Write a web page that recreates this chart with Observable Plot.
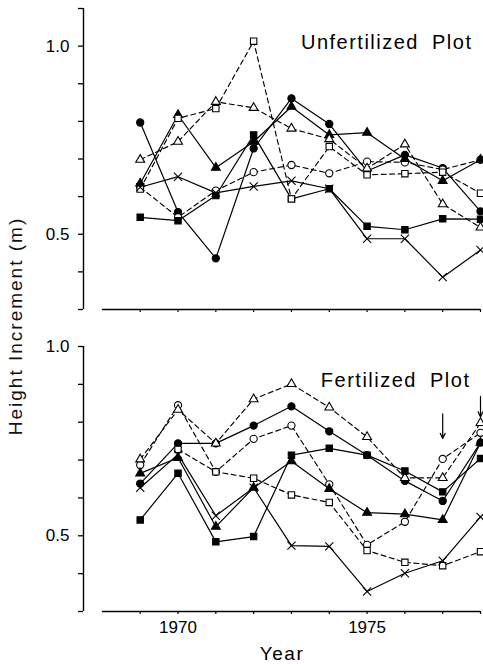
<!DOCTYPE html>
<html>
<head>
<meta charset="utf-8">
<script src="https://cdn.jsdelivr.net/npm/d3@7"></script>
<script src="https://cdn.jsdelivr.net/npm/@observablehq/plot@0.6"></script>
<style>
  body { margin: 0; background: #fff; }
  #wrap { position: relative; width: 483px; height: 664px; background: #fff; font-family: "Liberation Sans", Arial, sans-serif; }
  #top { position: absolute; left: 0; top: 0; }
  #bottom { position: absolute; left: 0; top: 320px; }
  #ylab { position: absolute; left: 16px; top: 326px; transform: translate(-50%, -50%) rotate(-90deg); font-size: 19px; letter-spacing: 2px; white-space: nowrap; color: #111; }
  svg g[aria-label="text"] text { letter-spacing: 1.5px; word-spacing: 6px; }
</style>
</head>
<body>
<div id="wrap">
  <div id="top"></div>
  <div id="bottom"></div>
  <div id="ylab">Height Increment (m)</div>
</div>
<script>
// ---- data ----
const years = [1969, 1970, 1971, 1972, 1973, 1974, 1975, 1976, 1977, 1978];

// Unfertilized plot
const unfFilledCircle   = [0.797, 0.559, 0.436, 0.728, 0.861, 0.793, 0.668, 0.711, 0.676, 0.561];
const unfOpenCircle     = [0.625, 0.545, 0.616, 0.665, 0.684, 0.662, 0.693, 0.691, 0.672, 0.698];
const unfFilledTriangle = [0.635, 0.817, 0.677, 0.746, 0.839, 0.764, 0.770, 0.700, 0.642, 0.698];
const unfOpenTriangle   = [0.698, 0.746, 0.852, 0.836, 0.781, 0.753, 0.675, 0.739, 0.580, 0.518];
const unfFilledSquare   = [0.545, 0.536, 0.603, 0.764, 0.594, 0.621, 0.521, 0.512, 0.541, 0.540];
const unfOpenSquare     = [0.620, 0.808, 0.834, 1.013, 0.594, 0.733, 0.658, 0.661, 0.665, 0.609];
const unfCross          = [0.625, 0.653, 0.610, 0.627, 0.642, 0.621, 0.488, 0.488, 0.386, 0.458];

// Fertilized plot
const ferFilledCircle   = [0.638, 0.744, 0.744, 0.791, 0.842, 0.776, 0.713, 0.645, 0.592, 0.746];
const ferOpenCircle     = [0.687, 0.845, 0.669, 0.756, 0.791, 0.636, 0.476, 0.537, 0.703, 0.772];
const ferFilledTriangle = [0.665, 0.706, 0.524, 0.627, 0.697, 0.624, 0.561, 0.557, 0.542, 0.746];
const ferOpenTriangle   = [0.702, 0.833, 0.744, 0.861, 0.901, 0.839, 0.761, 0.653, 0.653, 0.798];
const ferFilledSquare   = [0.542, 0.665, 0.484, 0.498, 0.713, 0.731, 0.713, 0.671, 0.616, 0.704];
const ferOpenSquare     = [null,  0.728, 0.669, 0.652, 0.608, 0.588, 0.461, 0.430, 0.421, 0.458];
const ferCross          = [0.627, 0.715, 0.553, 0.627, 0.474, 0.472, 0.353, 0.401, 0.434, 0.550];

// arrows (fertilized panel)
const arrowYears  = [1977, 1978];
const arrowTop    = [0.822, 0.868];
const arrowBottom = [0.757, 0.814];

const topTicks = [0.3, 0.4, 0.5, 0.6, 0.7, 0.8, 0.9, 1.0, 1.1];
const bottomTicks = [0.3, 0.4, 0.5, 0.6, 0.7, 0.8, 0.9, 1.0];
const yLabelTicks = [0.5, 1.0];
const xLabelTicks = [1970, 1975];

// ---- styles ----
const styles = {
  filledCircle:   {symbol: "circle",   fill: "black", r: 3.6, dashed: false},
  openCircle:     {symbol: "circle",   fill: "white", r: 3.6, dashed: true},
  filledTriangle: {symbol: "triangle", fill: "black", r: 3.3, dashed: false},
  openTriangle:   {symbol: "triangle", fill: "white", r: 3.3, dashed: true},
  filledSquare:   {symbol: "square",   fill: "black", r: 3.6, dashed: false},
  openSquare:     {symbol: "square",   fill: "white", r: 3.6, dashed: true},
  cross:          {symbol: "times",    fill: "none",  r: 3.8, dashed: false}
};

function rows(values) {
  return years.map((year, i) => ({year, value: values[i]})).filter(d => d.value != null);
}

function panelMarks(series) {
  const lines = series.map(([vals, s]) =>
    Plot.line(rows(vals), {x: "year", y: "value", stroke: "black",
      strokeWidth: s.dashed ? 1.15 : 1.2, strokeDasharray: s.dashed ? "5,3.5" : null}));
  const dots = series.map(([vals, s]) =>
    Plot.dot(rows(vals), {x: "year", y: "value", symbol: s.symbol, r: s.r,
      fill: s.fill, stroke: "black", strokeWidth: 1.1}));
  return [...lines, ...dots];
}

const yFmt = d => yLabelTicks.some(t => Math.abs(t - d) < 1e-9) ? d.toFixed(1) : "";
const xFmt = d => xLabelTicks.includes(d) ? String(d) : "";

function frameMarks(yDomain, ticks, showXLabels) {
  return [
    Plot.ruleX([1967.5], {y1: yDomain[0], y2: yDomain[1], stroke: "black", strokeWidth: 1.4}),
    Plot.ruleY([yDomain[0]], {x1: 1968, x2: 1978, stroke: "black", strokeWidth: 1.4}),
    Plot.axisY({ticks, tickSize: 5, tickPadding: 9, tickFormat: yFmt, strokeWidth: 1.3, label: null}),
    Plot.axisX({ticks: years, tickSize: 3, tickPadding: 6, tickFormat: showXLabels ? xFmt : () => "", strokeWidth: 1.2, label: null})
  ];
}

const common = {
  width: 483, marginLeft: 83, marginRight: 3,
  x: {domain: [1967.5, 1978], axis: null, label: null},
  style: {fontFamily: "Liberation Sans, Arial, sans-serif", fontSize: "17px", background: "white", color: "black", overflow: "visible"}
};

const unfSeries = [
  [unfFilledCircle, styles.filledCircle], [unfOpenCircle, styles.openCircle],
  [unfFilledTriangle, styles.filledTriangle], [unfOpenTriangle, styles.openTriangle],
  [unfFilledSquare, styles.filledSquare], [unfOpenSquare, styles.openSquare],
  [unfCross, styles.cross]
];
const ferSeries = [
  [ferFilledCircle, styles.filledCircle], [ferOpenCircle, styles.openCircle],
  [ferFilledTriangle, styles.filledTriangle], [ferOpenTriangle, styles.openTriangle],
  [ferFilledSquare, styles.filledSquare], [ferOpenSquare, styles.openSquare],
  [ferCross, styles.cross]
];

const topPlot = Plot.plot({
  ...common,
  height: 320, marginTop: 8, marginBottom: 11,
  y: {domain: [0.3, 1.1], axis: null, label: null},
  marks: [
    ...frameMarks([0.3, 1.1], topTicks, false),
    ...panelMarks(unfSeries),
    Plot.text(["Unfertilized Plot"], {frameAnchor: "top-right", dx: -8, dy: 34, lineAnchor: "middle", fontSize: 20})
  ]
});
document.getElementById("top").appendChild(topPlot);

const arrowRows = arrowYears.map((year, i) => ({year, y1: arrowTop[i], y2: arrowBottom[i]}));

const bottomPlot = Plot.plot({
  ...common,
  height: 344, marginTop: 26, marginBottom: 53,
  y: {domain: [0.3, 1.0], axis: null, label: null},
  marks: [
    ...frameMarks([0.3, 1.0], bottomTicks, true),
    ...panelMarks(ferSeries),
    Plot.arrow(arrowRows, {x: "year", y1: "y1", y2: "y2", stroke: "black", strokeWidth: 1.2, headLength: 7, headAngle: 50}),
    Plot.text(["Fertilized Plot"], {frameAnchor: "top-right", dx: -10, dy: 34, lineAnchor: "middle", fontSize: 20}),
    Plot.text(["Year"], {frameAnchor: "bottom", dy: 42, lineAnchor: "middle", fontSize: 19})
  ]
});
document.getElementById("bottom").appendChild(bottomPlot);
</script>
</body>
</html>
